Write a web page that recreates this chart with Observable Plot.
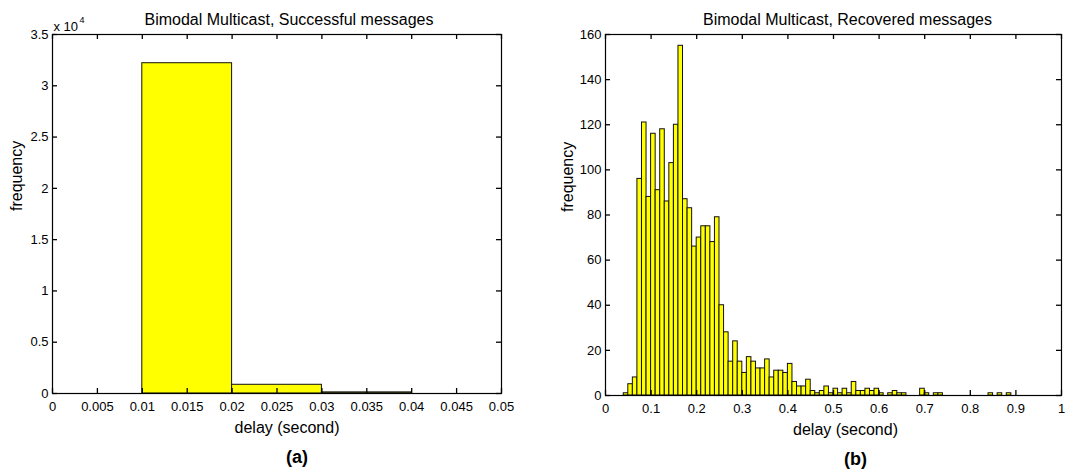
<!DOCTYPE html>
<html><head><meta charset="utf-8">
<script src="https://cdn.jsdelivr.net/npm/d3@7"></script>
<script src="https://cdn.jsdelivr.net/npm/@observablehq/plot@0.6"></script>
<style>
body{margin:0;background:#fff;}
#wrap{position:relative;width:1067px;height:469px;overflow:hidden;}
#a,#b{position:absolute;top:0;}
#a{left:0;} #b{left:533px;}
</style></head><body>
<div id="wrap"><div id="a"></div><div id="b"></div></div>
<script>
// ---- data ----
const leftBinStart = [0, 0.01, 0.02, 0.03, 0.04];
const leftCounts   = [0, 32200, 850, 110, 0];
const leftBinWidth = 0.01;
const leftXTicks = [0, 0.005, 0.01, 0.015, 0.02, 0.025, 0.03, 0.035, 0.04, 0.045, 0.05];
const leftYTicks = [0, 5000, 10000, 15000, 20000, 25000, 30000, 35000];

const rightCounts = [
  0, 0, 0, 0, 1, 5, 8, 96, 121, 88,
  116, 91, 118, 86, 103, 120, 155, 87, 83, 66,
  70, 75, 75, 68, 79, 40, 28, 15, 24, 15,
  10, 17, 15, 12, 12, 16, 8, 11, 11, 10,
  14, 6, 4, 4, 7, 2, 1, 2, 4, 1,
  3, 1, 3, 1, 6, 2, 2, 3, 2, 3,
  1, 0, 1, 2, 1, 1, 0, 0, 0, 3,
  1, 0, 1, 1, 0, 0, 0, 0, 0, 0,
  0, 0, 0, 0, 1, 0, 1, 0, 1, 0,
  0, 0
];
const rightBinWidth = 0.01;
const rightXTicks = [0, 0.1, 0.2, 0.3, 0.4, 0.5, 0.6, 0.7, 0.8, 0.9, 1];
const rightYTicks = [0, 20, 40, 60, 80, 100, 120, 140, 160];

const titles = ["Bimodal Multicast, Successful messages", "Bimodal Multicast, Recovered messages"];
const xLabel = "delay (second)";
const yLabel = "frequency";
const panelLabels = ["(a)", "(b)"];
const exponentBase = "x 10";
const exponentPower = "4";

// ---- build ----
const font = '"Liberation Sans", Arial, Helvetica, sans-serif';
const H = 469, MT = 34, TICK = 5;
const leftData = leftCounts.map((c, i) => ({x1: leftBinStart[i], x2: leftBinStart[i] + leftBinWidth, count: c}));
const rightData = rightCounts.map((c, i) => ({x1: i * rightBinWidth, x2: (i + 1) * rightBinWidth, count: c}));

function inwardTicks(xTicks, yTicks, fw, fh) {
  const o = {stroke: "black", strokeWidth: 1.3};
  return [
    Plot.tickX(xTicks, {...o, x: d => d, insetTop: fh - TICK}),
    Plot.tickX(xTicks, {...o, x: d => d, insetBottom: fh - TICK}),
    Plot.tickY(yTicks, {...o, y: d => d, insetRight: fw - TICK}),
    Plot.tickY(yTicks, {...o, y: d => d, insetLeft: fw - TICK})
  ];
}

function chart({data, width, mL, mR, mB, xDomain, yDomain, xTicks, yTicks, yFmt, title, titleDx, ylabDx, panel, extra}) {
  const fw = width - mL - mR, fh = H - MT - mB;
  return Plot.plot({
    width, height: H,
    marginLeft: mL, marginRight: mR, marginTop: MT, marginBottom: mB,
    style: {fontFamily: font, fontSize: "13px", color: "black", background: "white"},
    x: {domain: xDomain},
    y: {domain: yDomain},
    marks: [
      Plot.rect(data, {x1: "x1", x2: "x2", y1: 0, y2: "count", fill: "#ffff00", stroke: "#111", strokeWidth: 1}),
      ...inwardTicks(xTicks, yTicks, fw, fh),
      Plot.frame({stroke: "black", strokeWidth: 1.2}),
      Plot.axisX({anchor: "bottom", ticks: xTicks, tickSize: 0, tickPadding: 8, tickFormat: d => String(d), label: null}),
      Plot.axisY({anchor: "left", ticks: yTicks, tickSize: 0, tickPadding: 4, tickFormat: yFmt, label: null}),
      Plot.text([title], {text: d => d, frameAnchor: "top", dy: -15, dx: titleDx, lineAnchor: "middle", fontSize: 16}),
      Plot.text([xLabel], {text: d => d, frameAnchor: "bottom", dy: 34, dx: titleDx - 2, lineAnchor: "middle", fontSize: 16}),
      Plot.text([yLabel], {text: d => d, frameAnchor: "left", dx: ylabDx, dy: -3, rotate: -90, lineAnchor: "middle", fontSize: 16}),
      Plot.text([panel], {text: d => d, frameAnchor: "bottom", dy: 64, dx: titleDx + 8, lineAnchor: "middle", fontSize: 18, fontWeight: "bold"}),
      ...(extra || [])
    ]
  });
}

const left = chart({
  data: leftData, width: 533, mL: 52, mR: 32, mB: 76,
  xDomain: [0, 0.05], yDomain: [0, 35000], xTicks: leftXTicks, yTicks: leftYTicks,
  yFmt: d => String(d / 10000),
  title: titles[0], titleDx: 12, ylabDx: -36, panel: panelLabels[0],
  extra: [
    Plot.text([exponentBase], {text: d => d, frameAnchor: "top-left", dx: 1, dy: -8, textAnchor: "start", lineAnchor: "middle", fontSize: 13}),
    Plot.text([exponentPower], {text: d => d, frameAnchor: "top-left", dx: 27, dy: -14, textAnchor: "start", lineAnchor: "middle", fontSize: 9})
  ]
});
const right = chart({
  data: rightData, width: 534, mL: 72, mR: 6, mB: 74,
  xDomain: [0, 1], yDomain: [0, 160], xTicks: rightXTicks, yTicks: rightYTicks,
  yFmt: d => String(d),
  title: titles[1], titleDx: 14, ylabDx: -38, panel: panelLabels[1]
});
document.getElementById("a").append(left);
document.getElementById("b").append(right);
</script>
</body></html>
